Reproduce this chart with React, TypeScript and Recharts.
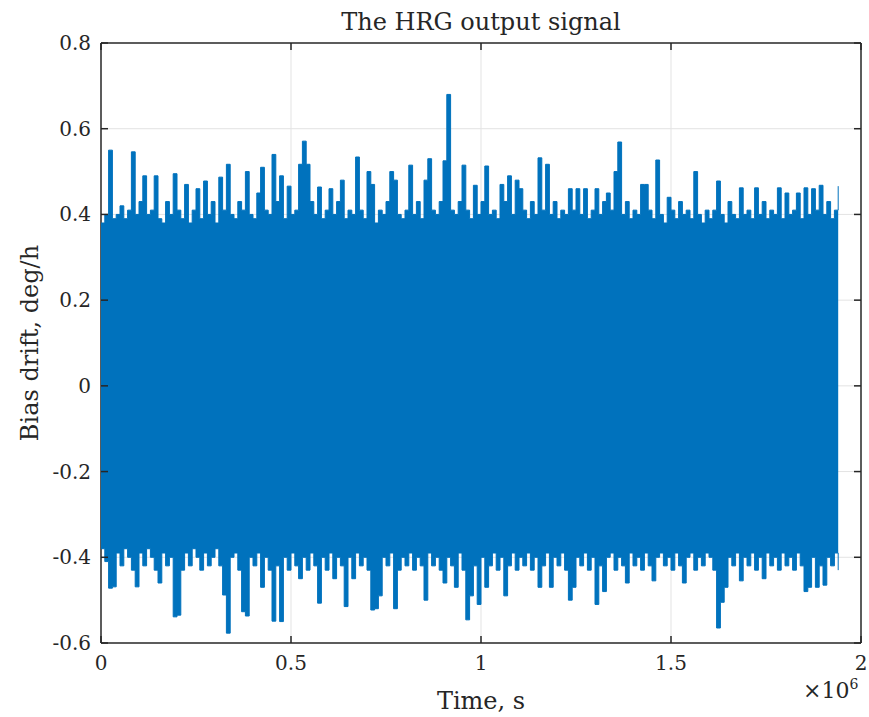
import {
  ComposedChart,
  Area,
  XAxis,
  YAxis,
  CartesianGrid,
} from "recharts";

// sample spacing of the envelope readings, in seconds
const STEP = 10000;

// upper envelope of the signal (deg/h), one reading per 10 000 s
const upper = [
  0.38, 0.40, 0.55, 0.39, 0.40, 0.42, 0.39, 0.41, 0.546, 0.40,
  0.43, 0.49, 0.40, 0.41, 0.49, 0.39, 0.38, 0.43, 0.40, 0.495,
  0.41, 0.39, 0.47, 0.38, 0.41, 0.46, 0.39, 0.478, 0.40, 0.43,
  0.38, 0.487, 0.41, 0.517, 0.40, 0.39, 0.43, 0.41, 0.50, 0.40,
  0.39, 0.45, 0.51, 0.41, 0.40, 0.54, 0.43, 0.49, 0.39, 0.466,
  0.40, 0.41, 0.517, 0.571, 0.517, 0.43, 0.40, 0.464, 0.39, 0.41,
  0.46, 0.40, 0.43, 0.48, 0.39, 0.41, 0.40, 0.534, 0.41, 0.39,
  0.50, 0.47, 0.38, 0.41, 0.40, 0.43, 0.50, 0.48, 0.40, 0.39,
  0.41, 0.515, 0.40, 0.43, 0.39, 0.48, 0.53, 0.41, 0.40, 0.43,
  0.525, 0.68, 0.41, 0.40, 0.43, 0.515, 0.41, 0.39, 0.468, 0.40,
  0.43, 0.513, 0.40, 0.41, 0.39, 0.47, 0.43, 0.49, 0.40, 0.48,
  0.46, 0.41, 0.39, 0.43, 0.40, 0.532, 0.41, 0.517, 0.40, 0.43,
  0.39, 0.41, 0.40, 0.46, 0.41, 0.46, 0.40, 0.46, 0.39, 0.41,
  0.46, 0.40, 0.43, 0.45, 0.41, 0.50, 0.569, 0.40, 0.43, 0.39,
  0.41, 0.40, 0.47, 0.47, 0.41, 0.39, 0.527, 0.40, 0.38, 0.44,
  0.41, 0.39, 0.43, 0.40, 0.41, 0.39, 0.50, 0.40, 0.38, 0.41,
  0.39, 0.41, 0.478, 0.40, 0.38, 0.43, 0.40, 0.39, 0.462, 0.40,
  0.41, 0.39, 0.462, 0.40, 0.43, 0.39, 0.41, 0.40, 0.462, 0.39,
  0.45, 0.40, 0.41, 0.45, 0.39, 0.462, 0.40, 0.46, 0.41, 0.468,
  0.40, 0.43, 0.39, 0.41, 0.466,
];

// lower envelope of the signal (deg/h)
const lower = [
  -0.38, -0.41, -0.472, -0.469, -0.39, -0.42, -0.38, -0.40, -0.43, -0.469,
  -0.39, -0.42, -0.38, -0.40, -0.43, -0.46, -0.39, -0.42, -0.40, -0.539,
  -0.535, -0.43, -0.39, -0.42, -0.38, -0.40, -0.43, -0.39, -0.42, -0.40,
  -0.38, -0.42, -0.488, -0.577, -0.40, -0.39, -0.43, -0.527, -0.537, -0.40,
  -0.42, -0.39, -0.47, -0.40, -0.43, -0.549, -0.42, -0.55, -0.40, -0.43,
  -0.39, -0.42, -0.45, -0.40, -0.43, -0.39, -0.42, -0.507, -0.40, -0.43,
  -0.39, -0.45, -0.40, -0.42, -0.515, -0.40, -0.45, -0.39, -0.42, -0.40,
  -0.43, -0.523, -0.52, -0.49, -0.40, -0.42, -0.39, -0.52, -0.43, -0.40,
  -0.42, -0.39, -0.43, -0.40, -0.42, -0.50, -0.39, -0.42, -0.40, -0.43,
  -0.46, -0.40, -0.42, -0.47, -0.39, -0.43, -0.546, -0.49, -0.42, -0.51,
  -0.40, -0.47, -0.42, -0.39, -0.43, -0.40, -0.49, -0.42, -0.39, -0.43,
  -0.40, -0.42, -0.39, -0.43, -0.40, -0.47, -0.42, -0.39, -0.47, -0.40,
  -0.42, -0.39, -0.43, -0.50, -0.47, -0.40, -0.42, -0.39, -0.43, -0.40,
  -0.51, -0.42, -0.48, -0.40, -0.39, -0.43, -0.40, -0.42, -0.46, -0.39,
  -0.42, -0.40, -0.43, -0.39, -0.42, -0.455, -0.40, -0.39, -0.42, -0.40,
  -0.43, -0.39, -0.42, -0.46, -0.40, -0.39, -0.43, -0.40, -0.42, -0.39,
  -0.40, -0.43, -0.565, -0.505, -0.47, -0.40, -0.42, -0.39, -0.455, -0.40,
  -0.42, -0.39, -0.43, -0.40, -0.45, -0.39, -0.42, -0.40, -0.43, -0.39,
  -0.42, -0.40, -0.43, -0.39, -0.42, -0.48, -0.47, -0.40, -0.47, -0.42,
  -0.465, -0.40, -0.42, -0.39, -0.43,
];

const xTicks = [0, 500000, 1000000, 1500000, 2000000];
const yTicks = [-0.6, -0.4, -0.2, 0, 0.2, 0.4, 0.6, 0.8];
// interior grid lines; the box edges are drawn by a second, dark grid
const xGrid = [500000, 1000000, 1500000];
const yGrid = [-0.4, -0.2, 0, 0.2, 0.4, 0.6];
const xEdge = [0, 2000000];
const yEdge = [-0.6, 0.8];

const data = upper.map((hi, i) => ({ t: i * STEP, band: [lower[i], hi] }));

const BLUE = "#0072BD";
const AXIS = "#262626";
const FONT = "'DejaVu Serif', serif";
const TICK = 7;
const PLOT_W = 760;
const PLOT_H = 600;

const fmtY = (v: number) => (v === 0 ? "0" : String(Number(v.toFixed(1))));
const fmtX = (v: number) => String(v / 1000000);

// MATLAB-style inward ticks on both sides of the box
function BottomTick(props: any) {
  const { y, payload } = props;
  const x = payload.coordinate;
  const top = y - PLOT_H;
  return (
    <g>
      <line x1={x} y1={y} x2={x} y2={y - TICK} stroke={AXIS} strokeWidth={1.5} />
      <line x1={x} y1={top} x2={x} y2={top + TICK} stroke={AXIS} strokeWidth={1.5} />
      <text
        x={x}
        y={y + 27}
        textAnchor="middle"
        fill={AXIS}
        fontSize={20}
        fontFamily={FONT}
      >
        {fmtX(payload.value)}
      </text>
    </g>
  );
}

function LeftTick(props: any) {
  const { x, payload } = props;
  const y = payload.coordinate;
  const right = x + PLOT_W;
  return (
    <g>
      <line x1={x} y1={y} x2={x + TICK} y2={y} stroke={AXIS} strokeWidth={1.5} />
      <line x1={right} y1={y} x2={right - TICK} y2={y} stroke={AXIS} strokeWidth={1.5} />
      <text
        x={x - 10}
        y={y + 7}
        textAnchor="end"
        fill={AXIS}
        fontSize={20}
        fontFamily={FONT}
      >
        {fmtY(payload.value)}
      </text>
    </g>
  );
}

export default function App() {
  return (
    <div
      style={{
        position: "absolute",
        left: 0,
        top: 0,
        width: 869,
        height: 717,
        background: "#fff",
        fontFamily: FONT,
        color: AXIS,
      }}
    >
      <div
        style={{
          position: "absolute",
          top: 8,
          left: 101,
          width: 760,
          textAlign: "center",
          fontSize: 24,
        }}
      >
        The HRG output signal
      </div>
      <ComposedChart
        width={869}
        height={717}
        data={data}
        margin={{ top: 43, right: 8, bottom: 44, left: 41 }}
      >
        <CartesianGrid
          stroke="#e3e3e3"
          strokeWidth={1}
          horizontalValues={yGrid}
          verticalValues={xGrid}
        />
        <Area
          type="stepAfter"
          dataKey="band"
          stroke={BLUE}
          strokeWidth={1}
          fill={BLUE}
          fillOpacity={1}
          dot={false}
          activeDot={false}
          isAnimationActive={false}
        />
        <CartesianGrid
          stroke={AXIS}
          strokeWidth={1.5}
          horizontalValues={yEdge}
          verticalValues={xEdge}
        />
        <XAxis
          dataKey="t"
          type="number"
          domain={[0, 2000000]}
          ticks={xTicks}
          tickFormatter={fmtX}
          interval={0}
          height={30}
          tickSize={0}
          tickMargin={0}
          tickLine={false}
          tick={<BottomTick />}
          axisLine={false}
        />
        <YAxis
          type="number"
          domain={[-0.6, 0.8]}
          ticks={yTicks}
          tickFormatter={fmtY}
          interval={0}
          width={60}
          tickSize={0}
          tickMargin={0}
          tickLine={false}
          tick={<LeftTick />}
          axisLine={false}
        />
      </ComposedChart>
      <div
        style={{
          position: "absolute",
          top: 687,
          left: 101,
          width: 760,
          textAlign: "center",
          fontSize: 24,
        }}
      >
        Time, s
      </div>
      <div
        style={{
          position: "absolute",
          top: 676,
          left: 803,
          fontSize: 22,
        }}
      >
        ×10<sup style={{ fontSize: 14, verticalAlign: 9 }}>6</sup>
      </div>
      <div
        style={{
          position: "absolute",
          left: 30,
          top: 343,
          transform: "translate(-50%, -50%) rotate(-90deg)",
          whiteSpace: "nowrap",
          fontSize: 24,
        }}
      >
        Bias drift, deg/h
      </div>
    </div>
  );
}
